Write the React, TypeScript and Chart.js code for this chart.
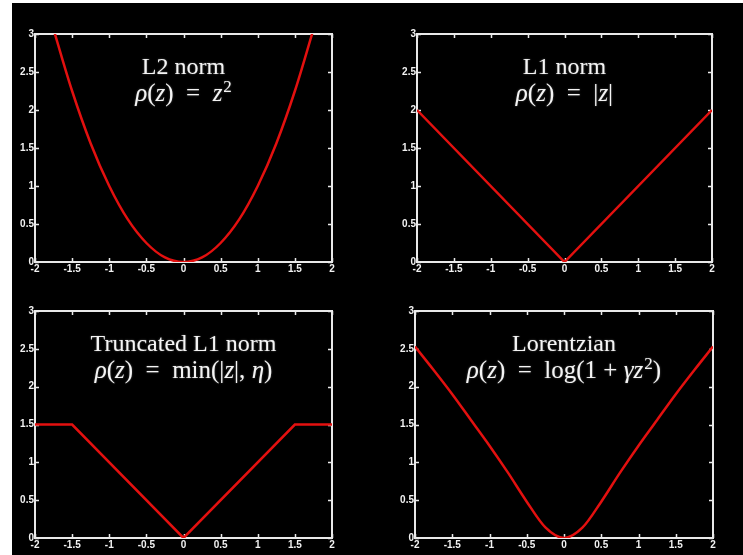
import React, { useEffect, useRef } from "react";
import { Chart, registerables } from "chart.js";

Chart.register(...registerables);

// Shared axis ranges and tick spacing
const zMin = -2;
const zMax = 2;
const zStep = 0.5;
const rhoMin = 0;
const rhoMax = 3;
const rhoStep = 0.5;

// L2 norm samples
const l2Z = [-1.75, -1.5, -1.25, -1, -0.75, -0.5, -0.25, 0, 0.25, 0.5, 0.75, 1, 1.25, 1.5, 1.75];
const l2Rho = [3.06, 2.25, 1.56, 1, 0.56, 0.25, 0.06, 0, 0.06, 0.25, 0.56, 1, 1.56, 2.25, 3.06];

// L1 norm samples
const l1Z = [-2, 0, 2];
const l1Rho = [2, 0, 2];

// Truncated L1 norm samples
const truncZ = [-2, -1.5, 0, 1.5, 2];
const truncRho = [1.5, 1.5, 0, 1.5, 1.5];

// Lorentzian samples
const lorZ = [-2, -1.75, -1.5, -1.25, -1, -0.75, -0.5, -0.25, 0, 0.25, 0.5, 0.75, 1, 1.25, 1.5, 1.75, 2];
const lorRho = [2.53, 2.22, 1.9, 1.56, 1.22, 0.86, 0.48, 0.14, 0, 0.14, 0.48, 0.86, 1.22, 1.56, 1.9, 2.22, 2.53];

type Area = { left: number; top: number; right: number; bottom: number };

const AXIS_W = 22;
const AXIS_H = 14;
const PAD = { left: 8, top: 10, right: 8, bottom: 4 };

// White box around the plot area with inward ticks on all four sides
const framePlugin = {
  id: "boxFrame",
  beforeDatasetsDraw(chart: any) {
    const { ctx, chartArea, scales } = chart;
    const { left, top, right, bottom } = chartArea;
    ctx.save();
    ctx.strokeStyle = "#e9e9e9";
    ctx.lineWidth = 2;
    ctx.strokeRect(left, top, right - left, bottom - top);
    ctx.lineWidth = 1.5;
    const len = 4;
    ctx.beginPath();
    scales.x.ticks.forEach((t: any) => {
      const px = Math.round(scales.x.getPixelForValue(t.value)) + 0.5;
      ctx.moveTo(px, bottom);
      ctx.lineTo(px, bottom - len);
      ctx.moveTo(px, top);
      ctx.lineTo(px, top + len);
    });
    scales.y.ticks.forEach((t: any) => {
      const py = Math.round(scales.y.getPixelForValue(t.value)) + 0.5;
      ctx.moveTo(left, py);
      ctx.lineTo(left + len, py);
      ctx.moveTo(right, py);
      ctx.lineTo(right - len, py);
    });
    ctx.stroke();
    ctx.restore();
  },
};

const tickFont = { family: "'Liberation Sans', Arial, sans-serif", size: 10, weight: "bold" as const };
const plainNumber = (v: any) => String(v);

function Panel(props: { area: Area; z: number[]; rho: number[]; smooth: boolean; line1: React.ReactNode; line2: React.ReactNode }) {
  const { area, z, rho, smooth } = props;
  const ref = useRef<HTMLCanvasElement | null>(null);
  const w = area.right - area.left + AXIS_W + PAD.left + PAD.right;
  const h = area.bottom - area.top + AXIS_H + PAD.top + PAD.bottom;
  const canvasLeft = area.left - AXIS_W - PAD.left;
  const canvasTop = area.top - PAD.top;

  useEffect(() => {
    if (!ref.current) return;
    const chart = new Chart(ref.current, {
      type: "line",
      data: {
        datasets: [
          {
            data: z.map((v, i) => ({ x: v, y: rho[i] })),
            borderColor: "#e3100f",
            borderWidth: 2.5,
            pointRadius: 0,
            fill: false,
            tension: 0,
            cubicInterpolationMode: smooth ? "monotone" : "default",
          },
        ],
      },
      options: {
        animation: false,
        responsive: false,
        events: [],
        layout: { padding: PAD },
        plugins: { legend: { display: false }, tooltip: { enabled: false }, title: { display: false } },
        scales: {
          x: {
            type: "linear",
            min: zMin,
            max: zMax,
            ticks: {
              stepSize: zStep,
              color: "#f2f2f2",
              font: tickFont,
              padding: 1,
              maxRotation: 0,
              autoSkip: false,
              callback: plainNumber,
            },
            grid: { display: false, drawTicks: false, tickLength: 0 },
            border: { display: false },
            afterFit: (s: any) => {
              s.height = AXIS_H;
            },
          },
          y: {
            type: "linear",
            min: rhoMin,
            max: rhoMax,
            ticks: { stepSize: rhoStep, color: "#f2f2f2", font: tickFont, padding: 1, autoSkip: false, callback: plainNumber },
            grid: { display: false, drawTicks: false, tickLength: 0 },
            border: { display: false },
            afterFit: (s: any) => {
              s.width = AXIS_W;
            },
          },
        },
      } as any,
      plugins: [framePlugin],
    });
    return () => chart.destroy();
  }, []);

  const cx = (area.left + area.right) / 2;
  const titleStyle: React.CSSProperties = {
    position: "absolute",
    left: cx - 150,
    width: 300,
    textAlign: "center",
    color: "#f4f4f4",
    fontFamily: "'Liberation Serif', 'Times New Roman', serif",
    fontSize: 24,
    lineHeight: "26px",
    whiteSpace: "nowrap",
    textShadow: "0 0 2px rgba(255,255,255,0.35)",
  };

  return (
    <>
      <canvas
        ref={ref}
        width={w}
        height={h}
        style={{ position: "absolute", left: canvasLeft, top: canvasTop, width: w, height: h }}
      />
      <div style={{ ...titleStyle, top: area.top + 19 }}>{props.line1}</div>
      <div style={{ ...titleStyle, top: area.top + 46, fontSize: 25 }}>{props.line2}</div>
    </>
  );
}

const Sup2 = () => (
  <span style={{ fontSize: 17, position: "relative", top: -9, lineHeight: 0, marginLeft: 1 }}>2</span>
);

// Wider gaps around the equals sign, as in typeset math
const Eq = () => <span>{"\u2002=\u2002"}</span>;

export default function App() {
  return (
    <div
      style={{
        position: "absolute",
        left: 0,
        top: 0,
        width: 743,
        height: 555,
        background: "#ffffff",
        overflow: "hidden",
      }}
    >
      <div style={{ position: "absolute", left: 12, top: 3, right: 0, bottom: 0, background: "#000000" }} />
      <Panel
        area={{ left: 35, top: 34, right: 332, bottom: 262 }}
        z={l2Z}
        rho={l2Rho}
        smooth={true}
        line1={<span>L2 norm</span>}
        line2={
          <span>
            <i>ρ</i>(<i>z</i>)
            <Eq />
            <i>z</i>
            <Sup2 />
          </span>
        }
      />
      <Panel
        area={{ left: 417, top: 34, right: 712, bottom: 262 }}
        z={l1Z}
        rho={l1Rho}
        smooth={false}
        line1={<span>L1 norm</span>}
        line2={
          <span>
            <i>ρ</i>(<i>z</i>)
            <Eq />|<i>z</i>|
          </span>
        }
      />
      <Panel
        area={{ left: 35, top: 311, right: 332, bottom: 538 }}
        z={truncZ}
        rho={truncRho}
        smooth={false}
        line1={<span>Truncated L1 norm</span>}
        line2={
          <span>
            <i>ρ</i>(<i>z</i>)
            <Eq />
            min(|<i>z</i>|, <i>η</i>)
          </span>
        }
      />
      <Panel
        area={{ left: 415, top: 311, right: 713, bottom: 538 }}
        z={lorZ}
        rho={lorRho}
        smooth={true}
        line1={<span>Lorentzian</span>}
        line2={
          <span>
            <i>ρ</i>(<i>z</i>)
            <Eq />
            log(1 + <i>γz</i>
            <Sup2 />)
          </span>
        }
      />
    </div>
  );
}
